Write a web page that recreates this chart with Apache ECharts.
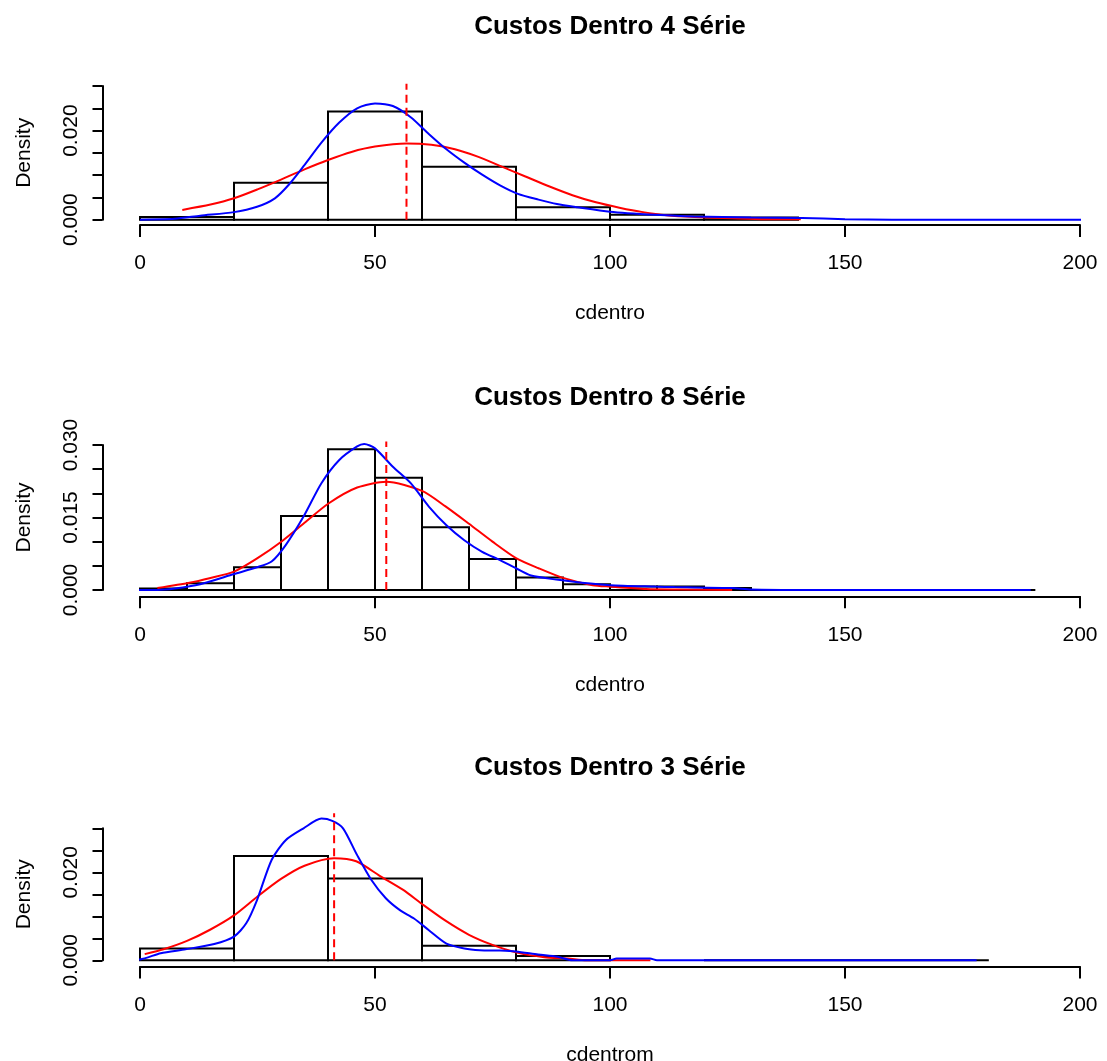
<!DOCTYPE html>
<html>
<head>
<meta charset="utf-8">
<script src="https://cdn.jsdelivr.net/npm/echarts@6/dist/echarts.min.js"></script>
<style>
  html, body { margin: 0; padding: 0; background: #ffffff; }
  #main { width: 1107px; height: 1061px; }
</style>
</head>
<body>
<div id="main"></div>
<script>
// ---- data ----
const panelTitles = ['Custos Dentro 4 Série', 'Custos Dentro 8 Série', 'Custos Dentro 3 Série'];
const xAxisNames = ['cdentro', 'cdentro', 'cdentrom'];
const xTickValues = [0, 50, 100, 150, 200];

// y tick labels that are printed on each panel
const yLabels1 = ['0.000', '0.020'];
const yLabels2 = ['0.000', '0.015', '0.030'];
const yLabels3 = ['0.000', '0.020'];

// histogram bin edges and densities
const edges1 = [0, 20, 40, 60, 80, 100, 120, 140];
const dens1 = [0.0006, 0.0083, 0.0243, 0.0119, 0.0028, 0.0011, 0.0005];

const edges2 = [0, 10, 20, 30, 40, 50, 60, 70, 80, 90, 100, 110, 120, 130];
const dens2 = [0.0003, 0.0014, 0.0047, 0.0153, 0.0291, 0.0232, 0.0130, 0.0064, 0.0026, 0.0012, 0.0007, 0.0007, 0.0004];

const edges3 = [0, 20, 40, 60, 80, 100];
const dens3 = [0.0027, 0.0237, 0.0186, 0.0033, 0.0010];

// kernel density estimates (blue)
const kde1 = [[0, 0], [7.4, 0.0002], [12.8, 0.0009], [20, 0.0017], [24.9, 0.0029], [28.7, 0.0048],
  [31.7, 0.0079], [34.8, 0.0120], [38.6, 0.0173], [42.4, 0.0218], [46.2, 0.0250], [50, 0.0261],
  [53.8, 0.0255], [57.6, 0.0230], [61.5, 0.0192], [65.2, 0.0158], [69, 0.0128], [72.8, 0.0101],
  [76.6, 0.0077], [80.4, 0.0058], [84.8, 0.0045], [88.7, 0.0035], [93, 0.0028], [100, 0.0018],
  [109.6, 0.0011], [117.8, 0.0007], [130, 0.0005], [140.9, 0.0004], [150, 0.0001], [160, 0], [206, 0]];

const kde2 = [[-4, 0], [3.7, 0], [7.4, 0.0003], [12.8, 0.0012], [20, 0.0033], [24.9, 0.0047],
  [28, 0.0059], [31, 0.0093], [34.8, 0.0152], [38.6, 0.0221], [42.4, 0.0269], [46.2, 0.0297],
  [47.7, 0.0302], [50, 0.0293], [53.8, 0.0255], [57.6, 0.0221], [61.5, 0.0172], [65.2, 0.0134],
  [69, 0.0103], [72.8, 0.0079], [76.6, 0.0062], [80, 0.0045], [83.2, 0.0030], [89, 0.0021],
  [94, 0.0015], [100, 0.0010], [109.6, 0.0007], [113.7, 0.0006], [126, 0.0004], [130, 0.0001],
  [142, 0], [189.5, 0]];

const kde3 = [[-6.6, 0], [0, 0.0002], [4.4, 0.0016], [9.7, 0.0025], [15.8, 0.0037], [20, 0.0054],
  [22.6, 0.0084], [24.9, 0.0137], [28, 0.0228], [31, 0.0273], [34.8, 0.0300], [38.6, 0.0322],
  [40.9, 0.0317], [43.2, 0.0300], [46.2, 0.0239], [49.2, 0.0183], [52.3, 0.0141], [55.3, 0.0114],
  [58.3, 0.0095], [61.4, 0.0069], [65.2, 0.0038], [69, 0.0027], [72.3, 0.0023], [76.6, 0.0022],
  [80, 0.0020], [84.7, 0.0013], [88.8, 0.0008], [92, 0], [100, 0], [101.4, 0.0004],
  [108.5, 0.0004], [110, 0], [178, 0]];

// fitted normal densities (red)
const norm1 = [[9, 0.0022], [15, 0.0034], [20, 0.0048], [25, 0.0068], [30, 0.0090], [35, 0.0113],
  [40, 0.0134], [45, 0.0152], [50, 0.0164], [56.7, 0.0171], [62, 0.0168], [67, 0.0158],
  [72, 0.0141], [77, 0.0119], [82, 0.0097], [87, 0.0075], [92, 0.0055], [97, 0.0039],
  [102, 0.0027], [107, 0.0017], [112, 0.0010], [118, 0.0006], [126, 0.0003], [133, 0.0001], [140.6, 0.0001]];

const norm2 = [[3.7, 0.0004], [10.5, 0.0015], [15, 0.0025], [20, 0.0038], [25, 0.0066], [30.2, 0.0101],
  [35, 0.0139], [40.1, 0.0179], [46.2, 0.0212], [52.4, 0.0224], [60, 0.0205], [65, 0.0173],
  [70, 0.0137], [75, 0.0100], [80, 0.0066], [84.8, 0.0045], [90, 0.0025], [96.3, 0.0010],
  [100, 0.0007], [107.7, 0.0002], [115, 0.0001], [126, 0]];

const norm3 = [[1, 0.0014], [5, 0.0025], [10, 0.0044], [15, 0.0070], [20, 0.0102], [25, 0.0145],
  [30, 0.0185], [35, 0.0215], [41.3, 0.0232], [46, 0.0225], [51, 0.0192], [56, 0.0160],
  [60, 0.0128], [65, 0.0090], [70, 0.0058], [75, 0.0035], [80, 0.0018], [86, 0.0007],
  [91, 0.0004], [95, 0], [108.6, 0]];

// sample means (dashed red) and the height each dashed line reaches
const means = [56.7, 52.4, 41.3];
const meanLineTops = [0.0305, 0.0307, 0.0334];

// black trace along zero under the tail of the kernel curve
const zeroTrace2 = [[130, 0], [190.5, 0]];
const zeroTrace3 = [[120, 0], [180.6, 0]];

// ---- layout ----
const FONT = '"Liberation Sans", Arial, Helvetica, sans-serif';
const gridTops = [86, 445, 828.3];
const gridHeights = [133.7, 145, 132];
const xOffsets = [5.3, 6.3, 6.2];
const titleY = [27, 397.5, 768];

const panels = [
  { edges: edges1, dens: dens1, kde: kde1, norm: norm1, labels: yLabels1, zero: null },
  { edges: edges2, dens: dens2, kde: kde2, norm: norm2, labels: yLabels2, zero: zeroTrace2 },
  { edges: edges3, dens: dens3, kde: kde3, norm: norm3, labels: yLabels3, zero: zeroTrace3 }
];

const grid = [], xAxis = [], yAxis = [], series = [], graphic = [];

panels.forEach((p, i) => {
  grid.push({
    left: 140, width: 940, top: gridTops[i], height: gridHeights[i],
    containLabel: false, outerBoundsMode: 'none'
  });

  xAxis.push({
    gridIndex: i, type: 'value', min: xTickValues[0], max: xTickValues[xTickValues.length - 1],
    interval: xTickValues[1] - xTickValues[0], offset: xOffsets[i],
    axisLine: { show: true, onZero: false, lineStyle: { color: '#000', width: 2 } },
    axisTick: { show: true, length: 12, lineStyle: { color: '#000', width: 2 } },
    axisLabel: { color: '#000', fontSize: 21, fontFamily: FONT, margin: 28 },
    splitLine: { show: false },
    name: xAxisNames[i], nameLocation: 'middle', nameGap: 78,
    nameTextStyle: { color: '#000', fontSize: 21, fontFamily: FONT }
  });

  const shown = p.labels;
  yAxis.push({
    gridIndex: i, type: 'value', min: 0, max: 0.03, interval: 0.005, offset: 37.5,
    axisLine: { show: true, onZero: false, lineStyle: { color: '#000', width: 2 } },
    axisTick: { show: true, length: 10, lineStyle: { color: '#000', width: 2 } },
    axisLabel: {
      color: '#000', fontSize: 21, fontFamily: FONT, rotate: 90, margin: 21,
      formatter: v => { const s = v.toFixed(3); return shown.indexOf(s) >= 0 ? s : ''; }
    },
    splitLine: { show: false },
    name: 'Density', nameLocation: 'middle', nameGap: 68,
    nameTextStyle: { color: '#000', fontSize: 21, fontFamily: FONT }
  });

  // histogram bars
  series.push({
    type: 'custom', xAxisIndex: i, yAxisIndex: i, silent: true, clip: false,
    data: p.dens.map((d, k) => [p.edges[k], p.edges[k + 1], d]),
    encode: { x: [0, 1], y: 2 },
    renderItem: (params, api) => {
      const tl = api.coord([api.value(0), api.value(2)]);
      const br = api.coord([api.value(1), 0]);
      return {
        type: 'rect',
        shape: { x: tl[0], y: tl[1], width: br[0] - tl[0], height: br[1] - tl[1] },
        style: { fill: 'rgba(0,0,0,0)', stroke: '#000', lineWidth: 2 }
      };
    },
    z: 2
  });

  if (p.zero) {
    series.push({
      type: 'line', xAxisIndex: i, yAxisIndex: i, data: p.zero, showSymbol: false, silent: true,
      clip: false, lineStyle: { color: '#000', width: 2 }, z: 3
    });
  }

  // fitted normal (red)
  series.push({
    type: 'line', xAxisIndex: i, yAxisIndex: i, data: p.norm, showSymbol: false, silent: true,
    clip: false, smooth: 0.25, lineStyle: { color: '#ff0000', width: 2 }, z: 4
  });

  // kernel density (blue)
  series.push({
    type: 'line', xAxisIndex: i, yAxisIndex: i, data: p.kde, showSymbol: false, silent: true,
    clip: false, smooth: 0.25, lineStyle: { color: '#0000ff', width: 2 }, z: 5
  });

  // mean (dashed red)
  series.push({
    type: 'line', xAxisIndex: i, yAxisIndex: i,
    data: [[means[i], 0], [means[i], meanLineTops[i]]],
    showSymbol: false, silent: true, clip: false,
    lineStyle: { color: '#ff0000', width: 2, type: [8, 5] }, z: 6
  });

  graphic.push({
    type: 'text', x: 610, y: titleY[i], silent: true,
    style: {
      text: panelTitles[i], fill: '#000', font: 'bold 26px ' + FONT,
      align: 'center', verticalAlign: 'middle', textAlign: 'center', textVerticalAlign: 'middle'
    }
  });
});

const chart = echarts.init(document.getElementById('main'), null, { renderer: 'canvas' });
chart.setOption({
  animation: false,
  backgroundColor: '#ffffff',
  grid, xAxis, yAxis, series, graphic
});
</script>
</body>
</html>
